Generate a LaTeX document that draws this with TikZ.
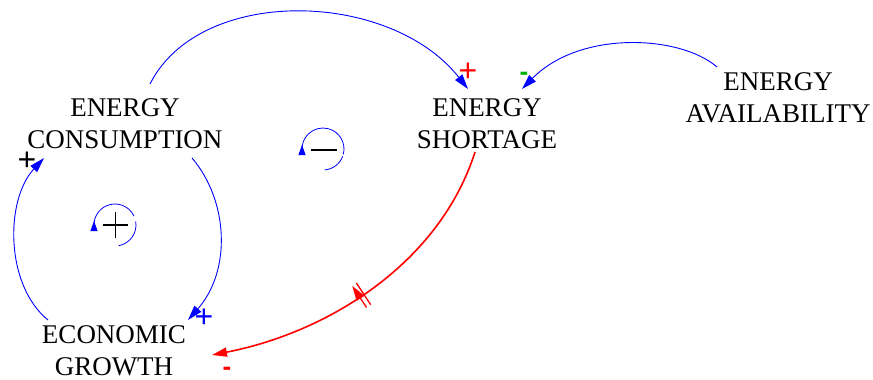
\documentclass[tikz,border=0pt]{standalone}
\usepackage{fontspec}
\setmainfont{Liberation Serif}
\newfontfamily\signfont{Liberation Sans}
\usetikzlibrary{arrows.meta,decorations.markings}
\tikzset{
  var/.style={align=center, font=\fontsize{27}{32}\selectfont, inner sep=0pt},
  link/.style={draw=blue, line width=0.9pt, -{Triangle[length=15pt,width=9pt]}},
  redlink/.style={draw=red, line width=1.6pt, -{Triangle[length=15pt,width=9pt]}},
  plus/.style={font=\signfont\fontsize{32}{32}\selectfont, inner sep=0pt, text height=15pt, text depth=0pt},
  minus/.style={font=\signfont\bfseries\fontsize{26}{26}\selectfont, inner sep=0pt},
  loopc/.style={draw=blue, line width=0.8pt},
}
\begin{document}
\begin{tikzpicture}[x=1pt,y=-1pt]
\useasboundingbox (0,0) rectangle (873,380);
\node[var] (cons) at (125,123.5) {ENERGY\\CONSUMPTION};
\node[var] (short) at (487,123.5) {ENERGY\\SHORTAGE};
\node[var] (avail) at (778,98) {ENERGY\\AVAILABILITY};
\node[var] (grow) at (114,350.5) {ECONOMIC\\GROWTH};

\coordinate (c1) at (150,84);
\coordinate (s1) at (468,89);
\coordinate (a1) at (717,67);
\coordinate (s2) at (522,89);
\coordinate (c2) at (192,158);
\coordinate (g1) at (188,320);
\coordinate (g2) at (48,320);
\coordinate (c3) at (44,158);
\coordinate (s3) at (475,152);
\coordinate (g3) at (212,355);

\draw[link] (c1) .. controls (200,-15) and (390,-10) .. (s1);
\draw[link] (a1) .. controls (680,35) and (580,30) .. (s2);
\draw[link] (c2) .. controls (228,200) and (232,270) .. (g1);
\draw[link] (g2) .. controls (5,285) and (5,200) .. (c3);
\draw[redlink, postaction={decorate, decoration={markings, mark=at position 0.535 with {\draw[red, line width=1.3pt] (-2.5,-13)--(-2.5,13) (2.5,-13)--(2.5,13);}}}]
  (s3) .. controls (440,262) and (330,332) .. (g3);

\node[plus, text=red] (p1) at (468,74) {+};
\node[minus, text=green!70!black] (m1) at (524,76) {-};
\node[plus, text=blue] (p2) at (204,320) {+};
\node[plus, text=black] (p3) at (27,163) {+};
\node[minus, text=red] (m2) at (227,371) {-};

% positive loop marker
\coordinate (lp) at (115,225);
\draw[loopc] (lp) ++(80:21) arc[start angle=80, end angle=-10, radius=21];
\draw[loopc, -{Triangle[length=10pt,width=7pt]}] (lp) ++(-25:21) arc[start angle=-25, end angle=-180, radius=21] -- ++(0,-4);
\draw[line width=1.8pt] (103,225) -- (128,225) (115.5,212) -- (115.5,238);

% negative loop marker
\coordinate (ln) at (323,149);
\draw[loopc] (ln) ++(85:21) arc[start angle=85, end angle=20, radius=21];
\draw[loopc, -{Triangle[length=10pt,width=7pt]}] (ln) ++(15:21) arc[start angle=15, end angle=-180, radius=21] -- ++(0,-4);
\draw[line width=2.4pt] (311,150) -- (337,150);
\end{tikzpicture}
\end{document}
